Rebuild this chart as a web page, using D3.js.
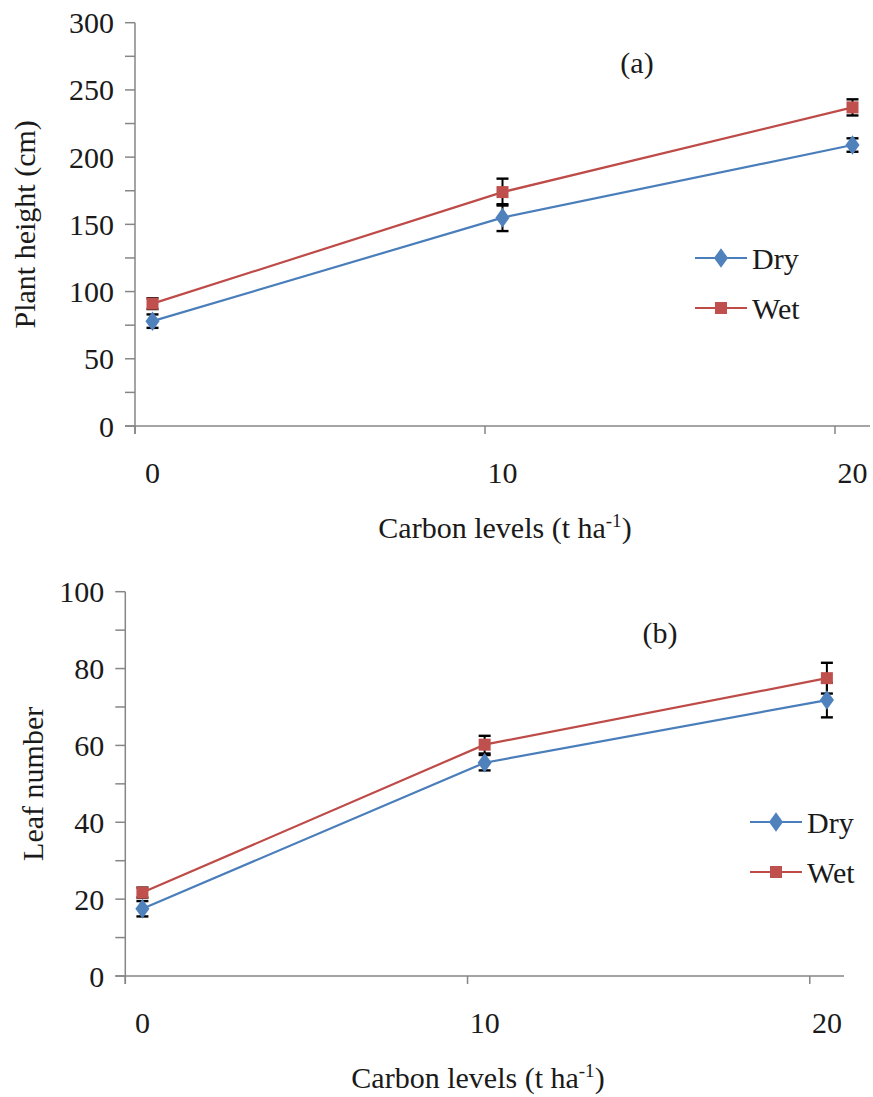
<!DOCTYPE html>
<html>
<head>
<meta charset="utf-8">
<script src="https://cdn.jsdelivr.net/npm/d3@7"></script>
<style>
  html, body { margin: 0; padding: 0; background: #fff; }
  svg { display: block; }
</style>
</head>
<body>
<svg id="chart" width="873" height="1097" font-family="'Liberation Serif', Tinos, 'Times New Roman', 'DejaVu Serif', serif"></svg>
<script>
// Carbon application levels (t ha-1)
const carbonLevels = [0, 10, 20];
const seriesNames = ["Dry", "Wet"];

// Panel (a): plant height (cm)
const heightDry = [78, 155, 209];
const heightDryErr = [5, 10, 5];
const heightWet = [91, 174, 237];
const heightWetErr = [4, 10, 6];
const heightTicks = [0, 50, 100, 150, 200, 250, 300];

// Panel (b): leaf number
const leafDry = [17.5, 55.5, 71.8];
const leafDryErr = [2, 2, 4.5];
const leafWet = [21.7, 60.2, 77.5];
const leafWetErr = [1.3, 2.3, 4];
const leafTicks = [0, 20, 40, 60, 80, 100];

const colors = {
  Dry: { line: "#4A7EBB", fill: "#4F81BD" },
  Wet: { line: "#BE4B48", fill: "#C0504D" }
};
const axisColor = "#868686";
const textColor = "#1a1a1a";
const fontSize = 30;

const svg = d3.select("#chart");

function drawPanel(cfg) {
  const g = svg.append("g").attr("fill", textColor);
  // categories sit half a unit right of their tick marks
  const x = d3.scaleLinear().domain([-0.5, 20.5]).range([cfg.left, cfg.right]);
  const y = d3.scaleLinear().domain([0, cfg.yMax]).range([cfg.bottom, cfg.top]);

  // y axis with minor ticks
  const minorY = d3.range(0, cfg.yMax + 1e-9, cfg.minorStep);
  g.selectAll(".ytick").data(minorY).enter().append("line")
    .attr("x1", cfg.left - 10).attr("x2", cfg.left)
    .attr("y1", d => y(d)).attr("y2", d => y(d))
    .attr("stroke", axisColor).attr("stroke-width", 1.5);
  g.append("line")
    .attr("x1", cfg.left).attr("x2", cfg.left)
    .attr("y1", cfg.top).attr("y2", cfg.bottom + 8)
    .attr("stroke", axisColor).attr("stroke-width", 1.5);
  g.selectAll(".ylab").data(cfg.yTicks).enter().append("text")
    .attr("x", cfg.left - 21).attr("y", d => y(d))
    .attr("dy", "0.35em").attr("text-anchor", "end")
    .attr("font-size", fontSize).text(d => d);

  // x axis: tick marks between categories, labels under categories
  g.append("line")
    .attr("x1", cfg.left - 10).attr("x2", cfg.right)
    .attr("y1", cfg.bottom).attr("y2", cfg.bottom)
    .attr("stroke", axisColor).attr("stroke-width", 1.5);
  g.selectAll(".xtick").data([-0.5, 9.5, 19.5]).enter().append("line")
    .attr("x1", d => x(d)).attr("x2", d => x(d))
    .attr("y1", cfg.bottom).attr("y2", cfg.bottom + 8)
    .attr("stroke", axisColor).attr("stroke-width", 1.5);
  g.selectAll(".xlab").data(carbonLevels).enter().append("text")
    .attr("x", d => x(d)).attr("y", cfg.bottom + 46)
    .attr("dy", "0.35em").attr("text-anchor", "middle")
    .attr("font-size", fontSize).text(d => d);

  // axis titles
  const xt = g.append("text")
    .attr("x", cfg.xTitleX).attr("y", cfg.bottom + 112)
    .attr("text-anchor", "middle").attr("font-size", fontSize);
  xt.append("tspan").text("Carbon levels (t ha");
  xt.append("tspan").attr("font-size", 19).attr("dy", -11).text("-1");
  xt.append("tspan").attr("dy", 11).text(")");

  g.append("text")
    .attr("transform", `translate(${cfg.yTitleX},${(cfg.top + cfg.bottom) / 2}) rotate(-90)`)
    .attr("text-anchor", "middle").attr("dy", "0.35em")
    .attr("font-size", fontSize).text(cfg.yTitle);

  // panel tag
  g.append("text")
    .attr("x", cfg.tagX).attr("y", cfg.tagY).attr("dy", "0.35em")
    .attr("text-anchor", "middle").attr("font-size", fontSize).text(cfg.tag);

  const series = [
    { name: "Dry", values: cfg.dry, err: cfg.dryErr },
    { name: "Wet", values: cfg.wet, err: cfg.wetErr }
  ];

  const line = d3.line().x((d, i) => x(carbonLevels[i])).y(d => y(d));
  series.forEach(s => {
    g.append("path").datum(s.values)
      .attr("d", line).attr("fill", "none")
      .attr("stroke", colors[s.name].line).attr("stroke-width", 2.2);
  });

  // error bars
  series.forEach(s => {
    s.values.forEach((v, i) => {
      const cx = x(carbonLevels[i]);
      const y1 = y(v + s.err[i]), y2 = y(v - s.err[i]);
      g.append("line").attr("x1", cx).attr("x2", cx).attr("y1", y1).attr("y2", y2)
        .attr("stroke", "#000").attr("stroke-width", 2);
      [y1, y2].forEach(yy => {
        g.append("line").attr("x1", cx - 6).attr("x2", cx + 6).attr("y1", yy).attr("y2", yy)
          .attr("stroke", "#000").attr("stroke-width", 2.4);
      });
    });
  });

  // markers
  const diamond = d3.symbol().type(d3.symbolDiamond).size(110);
  series.forEach(s => {
    s.values.forEach((v, i) => {
      const cx = x(carbonLevels[i]), cy = y(v);
      if (s.name === "Dry") {
        g.append("path").attr("d", diamond())
          .attr("transform", `translate(${cx},${cy}) scale(1.25,1)`)
          .attr("fill", colors.Dry.fill);
      } else {
        g.append("rect").attr("x", cx - 6).attr("y", cy - 6)
          .attr("width", 12).attr("height", 12)
          .attr("fill", colors.Wet.fill);
      }
    });
  });

  // legend
  seriesNames.forEach((name, k) => {
    const ly = cfg.legendY + k * 50;
    g.append("line").attr("x1", cfg.legendX).attr("x2", cfg.legendX + 52)
      .attr("y1", ly).attr("y2", ly)
      .attr("stroke", colors[name].line).attr("stroke-width", 2.2);
    const mx = cfg.legendX + 26;
    if (name === "Dry") {
      g.append("path").attr("d", diamond())
        .attr("transform", `translate(${mx},${ly}) scale(1.25,1)`)
        .attr("fill", colors.Dry.fill);
    } else {
      g.append("rect").attr("x", mx - 6).attr("y", ly - 6)
        .attr("width", 12).attr("height", 12).attr("fill", colors.Wet.fill);
    }
    g.append("text").attr("x", cfg.legendX + 57).attr("y", ly)
      .attr("dy", "0.35em").attr("font-size", fontSize).text(name);
  });
}

drawPanel({
  left: 135, right: 870, top: 22.7, bottom: 426,
  yMax: 300, minorStep: 25, yTicks: heightTicks,
  yTitle: "Plant height (cm)", yTitleX: 24, xTitleX: 505,
  tag: "(a)", tagX: 637, tagY: 62,
  dry: heightDry, dryErr: heightDryErr, wet: heightWet, wetErr: heightWetErr,
  legendX: 695, legendY: 258
});

drawPanel({
  left: 125.3, right: 844, top: 591.7, bottom: 976,
  yMax: 100, minorStep: 10, yTicks: leafTicks,
  yTitle: "Leaf number", yTitleX: 32, xTitleX: 478,
  tag: "(b)", tagX: 660, tagY: 632,
  dry: leafDry, dryErr: leafDryErr, wet: leafWet, wetErr: leafWetErr,
  legendX: 750, legendY: 822
});
</script>
</body>
</html>
